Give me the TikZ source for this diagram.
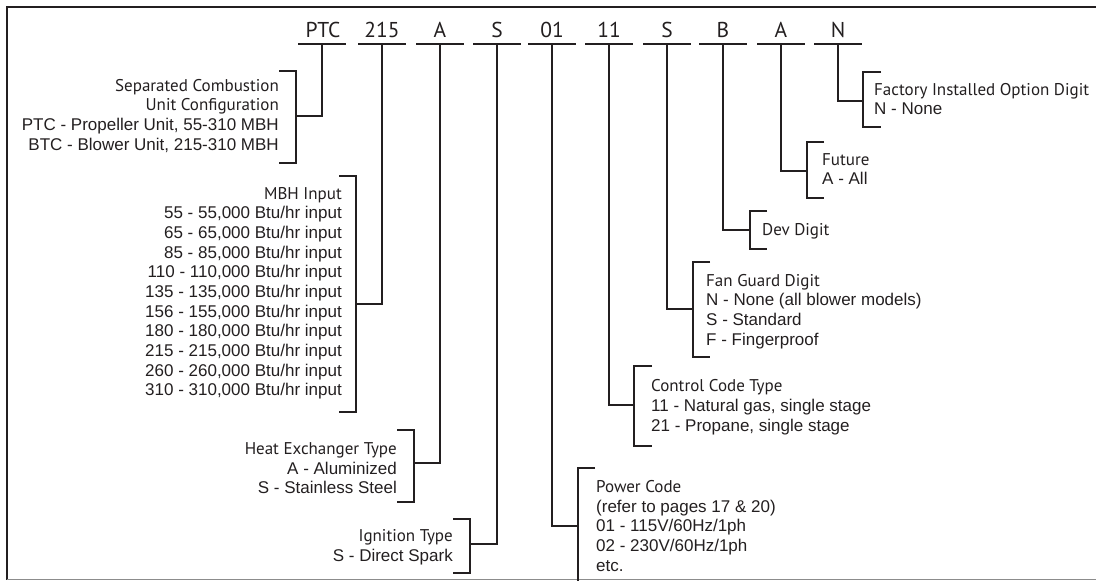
\documentclass[tikz,border=0pt]{standalone}
\usepackage{fontspec}
\setmainfont{Liberation Sans}
\newfontfamily\headfont{PT Sans}
\definecolor{ink}{HTML}{231F20}
\begin{document}
\begin{tikzpicture}[x=1pt,y=-1pt, color=ink,
  digit/.style={font={\headfont\fontsize{21.5}{24}\selectfont}, inner sep=0pt, anchor=base},
  under/.style={line width=2pt},
  conn/.style={line width=2pt, line join=miter},
  brk/.style={line width=2pt, line join=miter},
  desc/.style={inner sep=0pt, font={\fontsize{17}{19.65}\selectfont}},
  descl/.style={desc, align=left, anchor=north west},
  descr/.style={desc, align=right, anchor=north east}]
\useasboundingbox (0,0) rectangle (1096,581);
% frame
\draw[line width=2pt] (1096,6.5) -- (7,6.5) -- (7,580);
\draw[black!45, line width=1.5pt] (7,579.5) -- (1096,579.5);

% digits
\node[digit] (gPTC) at (323,37) {PTC};
\node[digit] (g215) at (382,37) {215};
\node[digit] (gA1)  at (440,37) {A};
\node[digit] (gS1)  at (497,37) {S};
\node[digit] (g01)  at (552,37) {01};
\node[digit] (g11)  at (609,37) {11};
\node[digit] (gS2)  at (667,37) {S};
\node[digit] (gB)   at (723,37) {B};
\node[digit] (gA2)  at (781,37) {A};
\node[digit] (gN)   at (838,37) {N};

% underlines and their centres
\foreach \n/\x in {PTC/322,215/382,A1/440,S1/497,01/552,11/609,S2/667,B/723,A2/781,N/838}{
  \coordinate (u\n) at (\x,44);
  \draw[under] (\x-24,44) -- (\x+24,44);
}

% descriptions
\node[descr] (dPTC) at (279,77.3) {\strut{\headfont Separated Combustion}\\{\headfont Unit Configuration}\\PTC - Propeller Unit, 55-310 MBH\\BTC - Blower Unit, 215-310 MBH\strut};
\node[descr] (d215) at (342,185.2) {\strut{\headfont MBH Input}\\55 - 55,000 Btu/hr input\\65 - 65,000 Btu/hr input\\85 - 85,000 Btu/hr input\\110 - 110,000 Btu/hr input\\135 - 135,000 Btu/hr input\\156 - 155,000 Btu/hr input\\180 - 180,000 Btu/hr input\\215 - 215,000 Btu/hr input\\260 - 260,000 Btu/hr input\\310 - 310,000 Btu/hr input\strut};
\node[descr] (dA1) at (397,440.7) {\strut{\headfont Heat Exchanger Type}\\A - Aluminized\\S - Stainless Steel\strut};
\node[descr] (dS1) at (453,527.7) {\strut{\headfont Ignition Type}\\S - Direct Spark\strut};
\node[descl] (d01) at (596,478.5) {\strut{\headfont Power Code}\\(refer to pages 17 \& 20)\\01 - 115V/60Hz/1ph\\02 - 230V/60Hz/1ph\\etc.\strut};
\node[descl] (d11) at (651,377.9) {\strut{\headfont Control Code Type}\\11 - Natural gas, single stage\\21 - Propane, single stage\strut};
\node[descl] (dS2) at (706,272.2) {\strut{\headfont Fan Guard Digit}\\N - None (all blower models)\\S - Standard\\F - Fingerproof\strut};
\node[descl] (dB) at (762,221.2) {\strut{\headfont Dev Digit}\strut};
\node[descl] (dA2) at (822,151.2) {\strut{\headfont Future}\\A - All\strut};
\node[descl] (dN) at (874,81.2) {\strut{\headfont Factory Installed Option Digit}\\N - None\strut};

% brackets
\draw[brk] (279,71) -- (296,71) -- (296,163) -- (279,163);
\coordinate (bPTC) at (296,116);
\draw[brk] (339,176) -- (356,176) -- (356,412) -- (339,412);
\coordinate (b215) at (356,304);
\draw[brk] (397,430) -- (414,430) -- (414,502) -- (397,502);
\coordinate (bA1) at (414,463);
\draw[brk] (453,519) -- (470,519) -- (470,573) -- (453,573);
\coordinate (bS1) at (470,544);
\draw[brk] (595,468) -- (578,468) -- (578,581);
\coordinate (b01) at (578,526);
\draw[brk] (652,366) -- (634,366) -- (634,446) -- (652,446);
\coordinate (b11) at (634,405);
\draw[brk] (710,262) -- (693,262) -- (693,357) -- (710,357);
\coordinate (bS2) at (693,309);
\draw[brk] (767,211) -- (750,211) -- (750,249) -- (767,249);
\coordinate (bB) at (750,230);
\draw[brk] (824,142) -- (807,142) -- (807,198) -- (824,198);
\coordinate (bA2) at (807,171);
\draw[brk] (881,72) -- (863,72) -- (863,127) -- (881,127);
\coordinate (bN) at (863,101);

% connectors
\foreach \n in {PTC,215,A1,S1,01,11,S2,B,A2,N}{
  \draw[conn] (u\n) |- (b\n);
}
\end{tikzpicture}
\end{document}
